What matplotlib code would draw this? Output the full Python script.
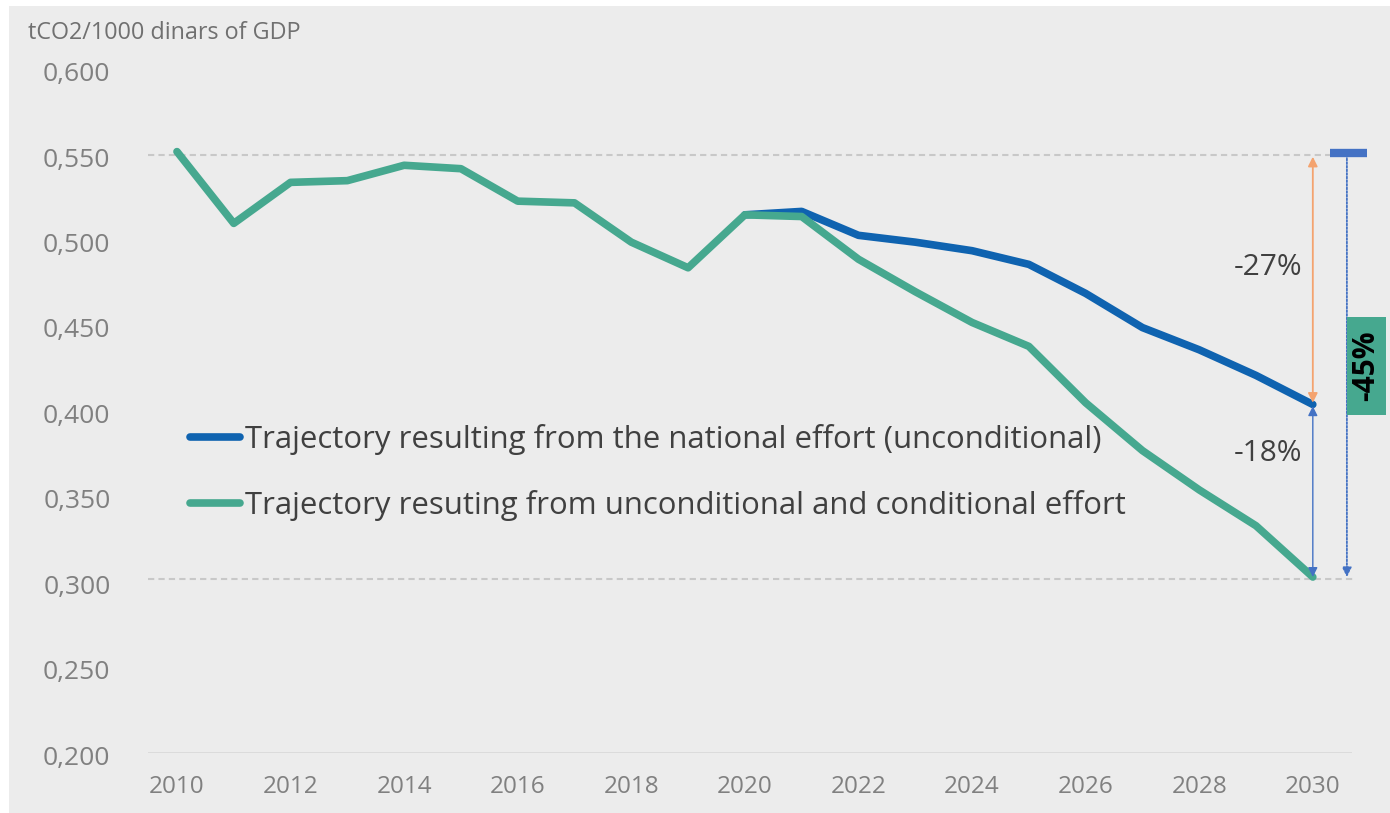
import matplotlib
matplotlib.use("Agg")
import matplotlib.pyplot as plt
from matplotlib.patches import Rectangle
from matplotlib.ticker import FuncFormatter
from matplotlib.transforms import ScaledTranslation

years = list(range(2010, 2031))
conditional = [0.552, 0.510, 0.534, 0.535, 0.544, 0.542, 0.523, 0.522, 0.499, 0.484,
               0.515, 0.514, 0.489, 0.470, 0.452, 0.438, 0.405, 0.377, 0.354, 0.333, 0.303]
uncond_years = list(range(2020, 2031))
unconditional = [0.515, 0.517, 0.503, 0.499, 0.494, 0.486, 0.469, 0.449, 0.436, 0.421, 0.404]

start_val = 0.550
mid_val = unconditional[-1]
end_val = conditional[-1]
pct_uncond = "-27%"
pct_cond = "-18%"
pct_total = "-45%"

label_uncond = "Trajectory resulting from the national effort (unconditional)"
label_cond = "Trajectory resuting from unconditional and conditional effort"
unit_label = "tCO2/1000 dinars of GDP"

blue = "#0f63b0"
green = "#46a88f"
bg = "#ececec"

plt.rcParams["font.family"] = ["Open Sans", "DejaVu Sans"]

fig = plt.figure(figsize=(13.9, 8.13), dpi=100, facecolor="white")
fig.patches.append(Rectangle((9 / 1390, 0), 1, 1 - 6 / 813, transform=fig.transFigure,
                             facecolor=bg, edgecolor="none", zorder=-10))

ax = fig.add_axes([148 / 1390, 60 / 813, 1204 / 1390, 683.4 / 813])
ax.patch.set_alpha(0)
ax.set_xlim(2009.49, 2030.69)
ax.set_ylim(0.2, 0.6)

for s in ax.spines.values():
    s.set_visible(False)
ax.axhline(0.2, color="#d9d9d9", lw=2, zorder=1)

ax.set_yticks([0.2, 0.25, 0.3, 0.35, 0.4, 0.45, 0.5, 0.55, 0.6])
ax.yaxis.set_major_formatter(FuncFormatter(lambda v, p: f"{v:.3f}".replace(".", ",")))
ax.set_xticks(range(2010, 2031, 2))
ax.tick_params(axis="y", length=0, pad=27, labelsize=19, labelcolor="#808080")
ax.tick_params(axis="x", length=0, pad=16, labelsize=17.5, labelcolor="#808080")
# y labels sit a little below their levels
shift = ScaledTranslation(0, -2 / 100, fig.dpi_scale_trans)
for lab in ax.get_yticklabels():
    lab.set_transform(lab.get_transform() + shift)

# reference lines at start and end values
ax.hlines(start_val, 2009.49, 2030.3, colors="#c8c8c8", lw=1.5, linestyles=(0, (3, 2)), zorder=1)
ax.hlines(0.302, 2009.49, 2030.75, colors="#c8c8c8", lw=1.5, linestyles=(0, (3, 2)), zorder=1,
          clip_on=False)

l1, = ax.plot(uncond_years, unconditional, color=blue, lw=5.5, solid_capstyle="round",
              solid_joinstyle="round", label=label_uncond, zorder=3)
l2, = ax.plot(years, conditional, color=green, lw=5.5, solid_capstyle="round",
              solid_joinstyle="round", label=label_cond, zorder=3)

leg = ax.legend(handles=[l1, l2], loc="upper left", bbox_to_anchor=(190 / 1390, 1 - 424 / 813),
                bbox_transform=fig.transFigure, frameon=False, fontsize=22.4,
                borderpad=0, borderaxespad=0, handlelength=1.6, handletextpad=0.16,
                labelspacing=1.12, labelcolor="#404040")

# arrows for the reductions
ax.annotate("", xy=(2030, mid_val + 0.001), xytext=(2030, start_val - 0.001),
            arrowprops=dict(arrowstyle="<|-|>", color="#f4a36f", lw=1.3,
                            mutation_scale=14, shrinkA=0, shrinkB=0), zorder=4)
ax.annotate("", xy=(2030, end_val), xytext=(2030, mid_val - 0.001),
            arrowprops=dict(arrowstyle="<|-|>", color="#4472c4", lw=1.0,
                            mutation_scale=14, shrinkA=0, shrinkB=0), zorder=4)
ax.annotate("", xy=(2030.6, end_val), xytext=(2030.6, start_val),
            arrowprops=dict(arrowstyle="-|>", color="#4472c4", lw=1.3, linestyle=(0, (1, 1)),
                            mutation_scale=14, shrinkA=0, shrinkB=0), zorder=4,
            annotation_clip=False)
ax.plot([2030.3, 2030.95], [0.551, 0.551], color="#4472c4", lw=6, solid_capstyle="butt",
        clip_on=False, zorder=5)

ax.text(2029.21, 0.4844, pct_uncond, fontsize=21.5, color="#404040", ha="center", va="center")
ax.text(2029.21, 0.3755, pct_cond, fontsize=21.5, color="#404040", ha="center", va="center")

ax.add_patch(Rectangle((2030.6, 0.3978), 0.69, 0.0574, facecolor=green, edgecolor="none",
                       clip_on=False, zorder=4))
ax.text(2030.945, 0.4265, pct_total, fontsize=21.5, fontweight="bold", rotation=90,
        color="black", ha="center", va="center", zorder=5, clip_on=False)

fig.text(28 / 1390, 1 - 33 / 813, unit_label, fontsize=16.8, color="#707070", va="center", ha="left")

fig.savefig("out.png", dpi=100, facecolor="white")
